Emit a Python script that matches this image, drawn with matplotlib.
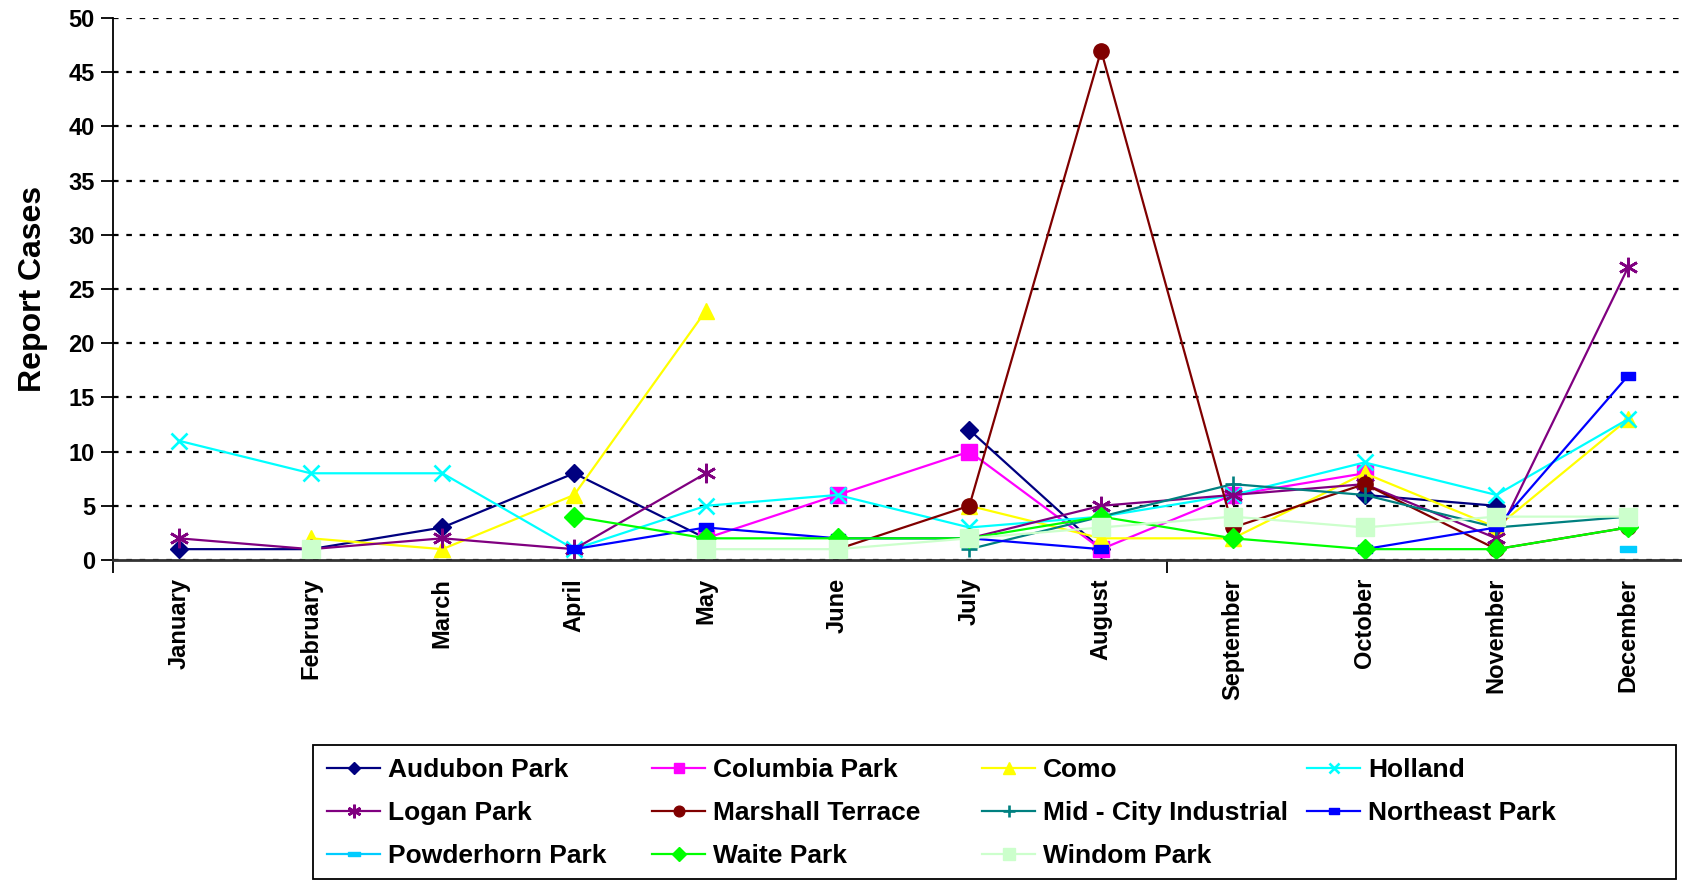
import numpy as np
import matplotlib.pyplot as plt
from matplotlib.patches import Rectangle

nan = np.nan

# Bulan
months = ['January', 'February', 'March', 'April', 'May', 'June', 'July',
          'August', 'September', 'October', 'November', 'December']

# Data per taman
audubon = [1, 1, 3, 8, 2, nan, 12, 1, nan, 6, 5, nan]
columbia = [nan, nan, nan, nan, 2, 6, 10, 1, 6, 8, nan, nan]
como = [nan, 2, 1, 6, 23, nan, 5, 2, 2, 8, 3, 13]
holland = [11, 8, 8, 1, 5, 6, 3, 4, 6, 9, 6, 13]
logan = [2, 1, 2, 1, 8, nan, 2, 5, 6, 7, 2, 27]
marshall = [nan, nan, nan, nan, nan, 1, 5, 47, 3, 7, 1, 3]
midcity = [nan, nan, nan, nan, nan, nan, 1, 4, 7, 6, 3, 4]
northeast = [nan, nan, nan, 1, 3, 2, 2, 1, nan, 1, 3, 17]
powderhorn = [nan, nan, nan, nan, nan, nan, nan, nan, nan, nan, nan, 1]
waite = [nan, nan, nan, 4, 2, 2, 2, 4, 2, 1, 1, 3]
windom = [nan, 1, nan, nan, 1, 1, 2, 3, 4, 3, 4, 4]

names = ['Audubon Park', 'Columbia Park', 'Como', 'Holland', 'Logan Park',
         'Marshall Terrace', 'Mid - City Industrial', 'Northeast Park',
         'Powderhorn Park', 'Waite Park', 'Windom Park']
series = [audubon, columbia, como, holland, logan, marshall, midcity,
          northeast, powderhorn, waite, windom]

# Gaya garis dan penanda
rect_wide = [(-1, -0.55), (1, -0.55), (1, 0.55), (-1, 0.55), (-1, -0.55)]
rect_flat = [(-1, -0.4), (1, -0.4), (1, 0.4), (-1, 0.4), (-1, -0.4)]
styles = [
    dict(color='#000080', marker='D', ms=9),
    dict(color='#FF00FF', marker='s', ms=11),
    dict(color='#FFFF00', marker='^', ms=12),
    dict(color='#00FFFF', marker='x', ms=11, mew=1.9),
    dict(color='#800080', marker=(6, 2, 0), ms=14, mew=1.9),
    dict(color='#800000', marker='o', ms=11),
    dict(color='#008080', marker='+', ms=12, mew=1.9),
    dict(color='#0000FF', marker=rect_wide, ms=10),
    dict(color='#00CCFF', marker=rect_flat, ms=12),
    dict(color='#00FF00', marker='D', ms=10),
    dict(color='#CCFFCC', marker='s', ms=13),
]

plt.rcParams['font.family'] = ['Liberation Sans', 'DejaVu Sans']
plt.rcParams['font.weight'] = 'bold'

fig = plt.figure(figsize=(16.82, 8.81), dpi=100)
ax = fig.add_axes([113 / 1682, 1 - 560 / 881, 1581 / 1682, 542 / 881])

x = np.arange(len(months))
handles = []
for name, vals, st in zip(names, series, styles):
    h, = ax.plot(x, vals, lw=1.6, label=name, markeredgewidth=st.pop('mew', 1),
                 clip_on=False, **st)
    handles.append(h)

ax.set_xlim(-0.5, 11.5)
ax.set_ylim(0, 50)
ax.set_yticks(np.arange(0, 51, 5))
ax.yaxis.grid(True, color='black', linestyle=(0, (2.5, 3.5)), lw=1.6)
ax.set_axisbelow(True)

for s in ['top', 'right']:
    ax.spines[s].set_visible(False)
ax.spines['left'].set_linewidth(1.3)
ax.spines['bottom'].set_linewidth(2)
ax.spines['bottom'].set_color('#333333')

ax.set_xticks(x)
ax.set_xticklabels(months, rotation=90, fontsize=17, fontweight='bold', va='top')
ax.tick_params(axis='x', length=0, pad=13)
ax.set_xticks([-0.5, 7.5], minor=True)
ax.tick_params(axis='x', which='minor', length=9, width=1.3, direction='out')
ax.tick_params(axis='y', length=9, width=1.3, direction='out', labelsize=17, pad=4)
for lbl in ax.get_yticklabels():
    lbl.set_fontweight('bold')

ax.set_ylabel('Report Cases', fontsize=23, fontweight='bold', labelpad=15)

# Kotak legenda digambar terpisah
fig.patches.append(Rectangle((313 / 1682, 1 - 879 / 881), 1363 / 1682, 134 / 881,
                             transform=fig.transFigure, fill=False,
                             edgecolor='black', lw=1.3))

# Legenda: satu legenda per kolom, urutan baris seperti Excel
col_x = [306, 631, 961, 1286]
for c in range(4):
    idx = list(range(c, len(names), 4))
    leg = fig.legend([handles[i] for i in idx], [names[i] for i in idx],
                     loc='upper left', bbox_to_anchor=(col_x[c] / 1682, 1 - 737 / 881),
                     fontsize=19, frameon=False,
                     handlelength=2.0, handletextpad=0.3,
                     labelspacing=0.72, borderpad=0.3, markerscale=0.7)
    for t in leg.get_texts():
        t.set_fontweight('bold')

fig.savefig('out.png', dpi=100)
